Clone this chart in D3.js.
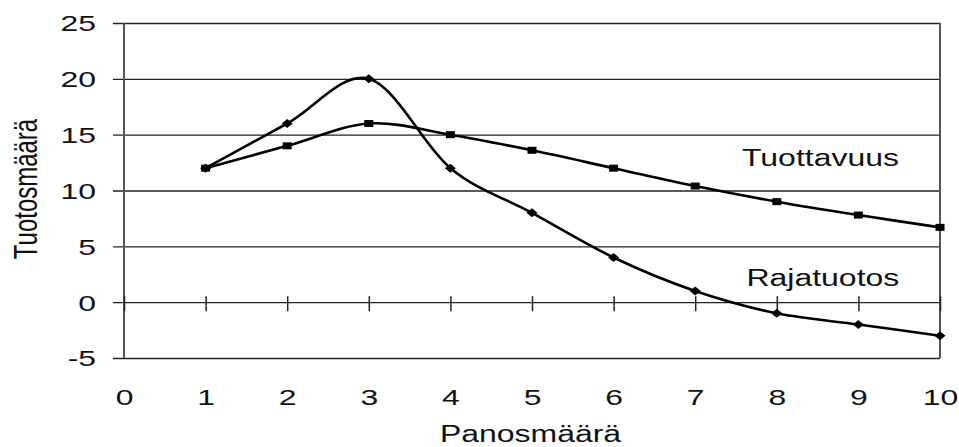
<!DOCTYPE html>
<html>
<head>
<meta charset="utf-8">
<style>
    body { margin: 0; background: #fff; }
    svg { display: block; font-family: "Liberation Sans", Arial, sans-serif; }
    .tick text { font-family: "Liberation Sans", Arial, sans-serif; font-size: 22px; fill: #111; }
    .grid .tick line { stroke: #222; stroke-width: 1.4; }
    .series-label, .axis-title { font-size: 23.5px; fill: #111; }
</style>
</head>
<body>
<svg width="959" height="447"></svg>
<script src="https://d3js.org/d3.v7.min.js"></script>
<script>
    // data
    let panos = [1, 2, 3, 4, 5, 6, 7, 8, 9, 10]
    let rajatuotos = [12, 16, 20, 12, 8, 4, 1, -1, -2, -3]
    let tuottavuus = [12, 14, 16, 15, 13.6, 12, 10.4, 9, 7.8, 6.7]
    let xTicks = [0, 1, 2, 3, 4, 5, 6, 7, 8, 9, 10]
    let yTicks = [-5, 0, 5, 10, 15, 20, 25]

    // the original picture is stretched sideways, so the text is too
    let tickStretch = 1.45
    let labelStretch = 1.36

    let svg = d3.select("svg")
    let margin = { top: 23, right: 19, bottom: 89, left: 124 }
    let width = 959, height = 447

    let x = d3.scaleLinear().domain([0, 10]).range([margin.left, width - margin.right])
    let y = d3.scaleLinear().domain([-5, 25]).range([height - margin.bottom, margin.top])

    // horizontal gridlines, poking out 11px to the left of the frame
    svg.append("g")
        .attr("class", "grid")
        .attr("transform", `translate(${margin.left - 11},0)`)
        .call(d3.axisRight(y).tickValues(yTicks).tickSize(x(10) - margin.left + 11).tickFormat(""))
        .call(g => g.select(".domain").remove())

    // y labels
    svg.append("g")
        .attr("class", "y axis")
        .attr("transform", `translate(${margin.left - 28},0)`)
        .call(d3.axisLeft(y).tickValues(yTicks).tickSize(0).tickFormat(d => String(d)))
        .call(g => g.select(".domain").remove())
        .call(g => g.selectAll(".tick line").remove())
        .call(g => g.selectAll(".tick text")
            .attr("x", 0)
            .attr("dy", "0.36em")
            .attr("transform", `scale(${tickStretch},1)`))

    // frame sides
    svg.append("line")
        .attr("x1", x(0)).attr("x2", x(0))
        .attr("y1", y(25)).attr("y2", y(-5))
        .style("stroke", "#555").style("stroke-width", 2)
    svg.append("line")
        .attr("x1", x(10)).attr("x2", x(10))
        .attr("y1", y(25)).attr("y2", y(-5))
        .style("stroke", "#555").style("stroke-width", 2)

    // x ticks sit on the zero line and cross it
    svg.append("g")
        .attr("class", "x axis")
        .attr("transform", `translate(0,${y(0)})`)
        .call(d3.axisBottom(x).tickValues(xTicks).tickSize(9).tickFormat(""))
        .call(g => g.select(".domain").remove())
        .call(g => g.selectAll(".tick line")
            .attr("y1", -6)
            .style("stroke", "#222").style("stroke-width", 1.5))

    // x labels below the frame
    svg.append("g")
        .attr("class", "x axis labels")
        .attr("transform", "translate(0,404.5)")
        .call(d3.axisBottom(x).tickValues(xTicks).tickSize(0))
        .call(g => g.select(".domain").remove())
        .call(g => g.selectAll(".tick line").remove())
        .call(g => g.selectAll(".tick text")
            .attr("y", 0)
            .attr("dy", 0)
            .attr("transform", `scale(${tickStretch},1)`))

    // lines, smoothed like the spreadsheet does
    let line = d3.line()
        .x((d, i) => x(panos[i]))
        .y(d => y(d))
        .curve(d3.curveCatmullRom.alpha(0))

    svg.append("path")
        .datum(tuottavuus)
        .attr("d", line)
        .attr("fill", "none")
        .attr("stroke", "#000")
        .attr("stroke-width", 2.6)

    svg.append("path")
        .datum(rajatuotos)
        .attr("d", line)
        .attr("fill", "none")
        .attr("stroke", "#000")
        .attr("stroke-width", 2.6)

    // square markers
    svg.append("g")
        .selectAll("rect")
        .data(tuottavuus)
        .join("rect")
        .attr("x", (d, i) => x(panos[i]) - 4.5)
        .attr("y", d => y(d) - 3.5)
        .attr("width", 9)
        .attr("height", 7)
        .attr("fill", "#000")

    // diamond markers
    svg.append("g")
        .selectAll("path")
        .data(rajatuotos)
        .join("path")
        .attr("transform", (d, i) => `translate(${x(panos[i])},${y(d)})`)
        .attr("d", "M-5.5,0L0,-4.5L5.5,0L0,4.5Z")
        .attr("fill", "#000")

    // series labels
    svg.append("text")
        .attr("class", "series-label")
        .attr("transform", `translate(742,166) scale(${labelStretch},1)`)
        .text("Tuottavuus")

    svg.append("text")
        .attr("class", "series-label")
        .attr("transform", `translate(746.5,286) scale(${labelStretch},1)`)
        .text("Rajatuotos")

    // axis titles
    svg.append("text")
        .attr("class", "axis-title")
        .attr("text-anchor", "middle")
        .attr("transform", `translate(530.5,441.5) scale(${labelStretch},1)`)
        .text("Panosmäärä")

    svg.append("text")
        .attr("class", "axis-title")
        .attr("text-anchor", "middle")
        .style("font-size", "24px")
        .attr("transform", `translate(37,189) scale(${labelStretch},1) rotate(-90)`)
        .text("Tuotosmäärä")
</script>
</body>
</html>
